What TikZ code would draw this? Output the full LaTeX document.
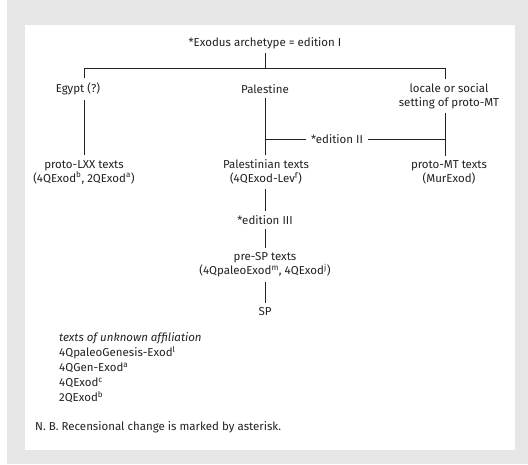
\documentclass[tikz,border=0pt]{standalone}
\usepackage{fontspec}
\setmainfont{Fira Sans}
\usetikzlibrary{positioning}
\definecolor{framegray}{HTML}{E6E6E6}
\definecolor{inkgray}{HTML}{222222}
\tikzset{
  lbl/.style={inner xsep=3pt, inner ysep=4.5pt, align=center, text=inkgray, font=\fontsize{11.5}{14}\selectfont},
  tie/.style={draw=inkgray, line width=0.75pt}
}

\begin{document}
\begin{tikzpicture}[x=1pt, y=-1pt]
% Frame
\useasboundingbox (0,0) rectangle (528,464);
\fill[framegray] (7,0) rectangle (528,464);
\fill[white] (25,25) rectangle (515,450);

% Archetype and its branches
\node[lbl] (arch) at (265,43) {*Exodus archetype = edition I};
\coordinate (jtop) at (265,68);
\coordinate (jl) at (84,68);
\coordinate (jr) at (445,68);
\draw[tie] (arch.south) -- (jtop);
\draw[tie] (jl) -- (jr);

% Locales
\node[lbl] (egypt) at (78,89) {Egypt (?)};
\node[lbl] (pal) at (265,89) {Palestine};
\node[lbl] (locale) at (449,96) {locale or social\\setting of proto-MT};
\draw[tie] (jl) -- (jl |- egypt.north);
\draw[tie] (jr) -- (jr |- locale.north);

% Text groups
\node[lbl] (lxx) at (84,172) {proto-LXX texts\\(4QExod\textsuperscript{b}, 2QExod\textsuperscript{a})};
\node[lbl] (palt) at (266,172) {Palestinian texts\\(4QExod-Lev\textsuperscript{f})};
\node[lbl] (mt) at (449,172) {proto-MT texts\\(MurExod)};
\draw[tie] (jl |- egypt.south) -- (jl |- lxx.north);
\draw[tie] (pal.south) -- (pal.south |- palt.north);
\draw[tie] (jr |- locale.south) -- (jr |- mt.north);

% Edition II
\node[lbl, inner xsep=5pt] (ed2) at (337,139) {*edition II};
\draw[tie] (pal.south |- ed2.west) -- (ed2.west);
\draw[tie] (ed2.east) -- (jr |- ed2.east);

% Edition III and SP
\node[lbl] (ed3) at (265,220) {*edition III};
\node[lbl] (presp) at (265,265) {pre-SP texts\\(4QpaleoExod\textsuperscript{m}, 4QExod\textsuperscript{j})};
\node[lbl] (sp) at (265,312) {SP};
\draw[tie] (palt.south -| ed3.north) -- (ed3.north);
\draw[tie] (ed3.south) -- (presp.north);
\draw[tie] (presp.south) -- (sp.north);

% Unaffiliated texts
\node[lbl, align=left, anchor=north west, font=\fontsize{11.5}{15}\selectfont] (unknown) at (56,328)
  {\textit{texts of unknown affiliation}\\
   4QpaleoGenesis-Exod\textsuperscript{l}\\
   4QGen-Exod\textsuperscript{a}\\
   4QExod\textsuperscript{c}\\
   2QExod\textsuperscript{b}};

% Note
\node[lbl, anchor=west] (nb) at (32,427) {N. B. Recensional change is marked by asterisk.};
\end{tikzpicture}
\end{document}
